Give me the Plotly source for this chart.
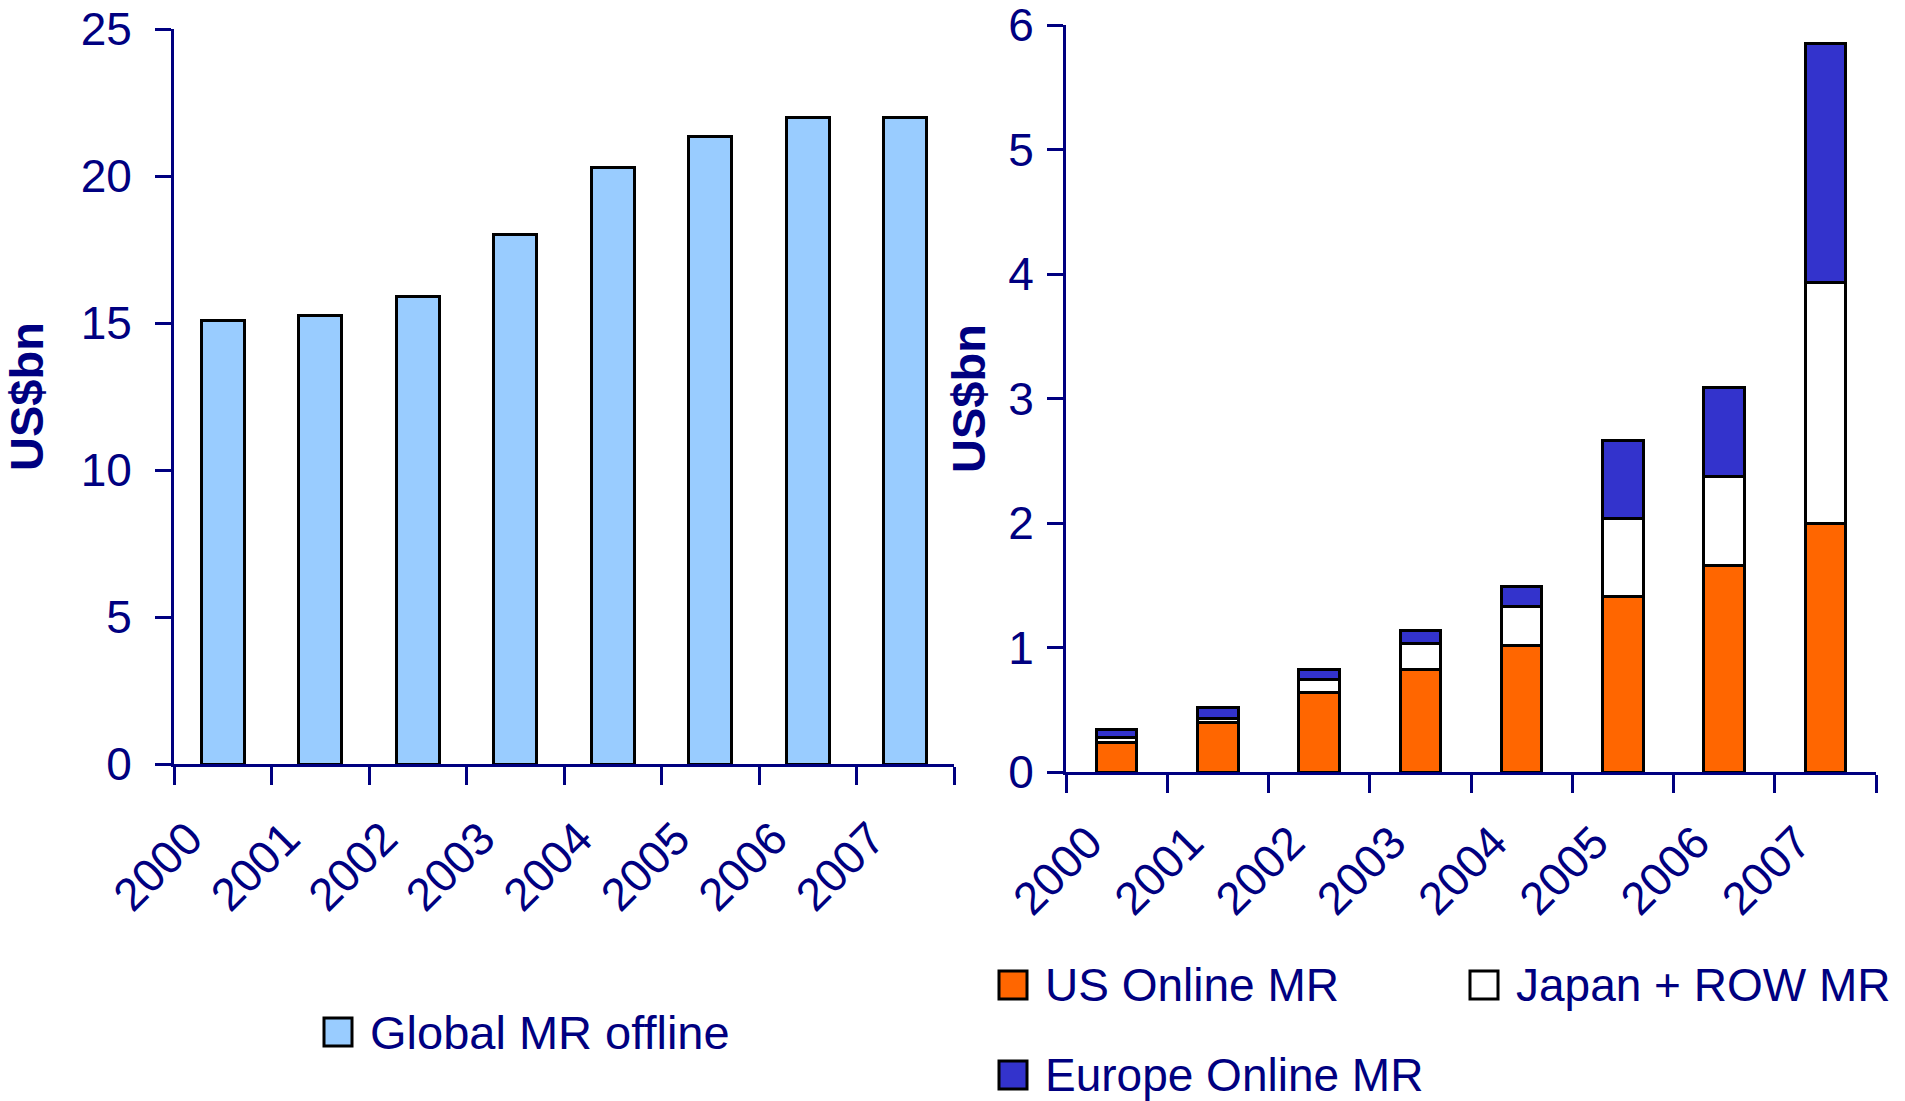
import plotly.graph_objects as go

# Market research spend, US$bn
years = ["2000", "2001", "2002", "2003", "2004", "2005", "2006", "2007"]
global_offline = [15.1, 15.25, 15.9, 18.0, 20.3, 21.35, 22.0, 22.0]

us_online = [0.24, 0.40, 0.635, 0.82, 1.02, 1.41, 1.66, 2.0]
japan_row = [0.04, 0.03, 0.11, 0.21, 0.31, 0.63, 0.71, 1.93]
europe_online = [0.06, 0.09, 0.08, 0.11, 0.16, 0.62, 0.72, 1.92]

y1_ticks = [0, 5, 10, 15, 20, 25]
y2_ticks = [0, 1, 2, 3, 4, 5, 6]

NAVY = "#000080"
FONT = "Liberation Sans, Arial, sans-serif"
W, H = 1905, 1101

fig = go.Figure()

outline = dict(color="black", width=3)

fig.add_trace(go.Bar(x=years, y=global_offline, name="Global MR offline",
                     marker=dict(color="#99CCFF", line=outline),
                     width=0.44, xaxis="x", yaxis="y", showlegend=False))

for name, vals, col in [("US Online MR", us_online, "#FF6600"),
                        ("Japan + ROW MR", japan_row, "#FFFFFF"),
                        ("Europe Online MR", europe_online, "#3333CC")]:
    fig.add_trace(go.Bar(x=years, y=vals, name=name,
                         marker=dict(color=col, line=outline),
                         width=0.40, xaxis="x2", yaxis="y2", showlegend=False))

tickfont = dict(family=FONT, size=46, color=NAVY)
xcommon = dict(type="category", tickson="boundaries", ticks="outside",
               ticklen=18, tickwidth=3, tickcolor=NAVY, showline=True,
               linecolor=NAVY, linewidth=3, showgrid=False, zeroline=False,
               tickangle=-45, tickfont=tickfont, range=[-0.5, 7.5],
               automargin=False)
ycommon = dict(ticks="outside", ticklen=16, tickwidth=3, tickcolor=NAVY,
               showline=True, linecolor=NAVY, linewidth=3, showgrid=False,
               zeroline=False, tickfont=tickfont, automargin=False,
               ticklabeloverflow="allow")
titlefont = dict(family=FONT, size=47, color=NAVY)


def px_x(p):
    return p / W


def px_y(p):
    return 1 - p / H


fig.update_layout(
    width=W, height=H, margin=dict(l=0, r=0, t=0, b=0),
    paper_bgcolor="white", plot_bgcolor="white", barmode="stack",
    font=dict(family=FONT, color=NAVY),
    xaxis=dict(domain=[px_x(174), px_x(954)], anchor="y",
               ticklabelshift=-34, ticklabelstandoff=26, **xcommon),
    yaxis=dict(domain=[px_y(764), px_y(29)], anchor="x", range=[0, 25.001],
               tickvals=y1_ticks, ticklabelstandoff=14,
               title=dict(text="<b>US$bn</b>", standoff=27, font=titlefont),
               **ycommon),
    xaxis2=dict(domain=[px_x(1066), px_x(1876)], anchor="y2",
                ticklabelshift=-28, ticklabelstandoff=22, **xcommon),
    yaxis2=dict(domain=[px_y(772), px_y(25)], anchor="x2", range=[0, 6.001],
                tickvals=y2_ticks, ticklabelstandoff=4,
                title=dict(text="<b>US$bn</b>", standoff=8, font=titlefont),
                **ycommon),
)

# Legend swatches and labels
legend_items = [
    ("Global MR offline", "#99CCFF", 324, 1032, 47),
    ("US Online MR", "#FF6600", 999, 985, 46),
    ("Japan + ROW MR", "#FFFFFF", 1470, 985, 46),
    ("Europe Online MR", "#3333CC", 999, 1075, 46),
]
for label, col, x0, yc, fs in legend_items:
    fig.add_shape(type="rect", xref="paper", yref="paper",
                  x0=px_x(x0), x1=px_x(x0 + 28),
                  y0=px_y(yc + 14), y1=px_y(yc - 14),
                  fillcolor=col, line=dict(color="black", width=3))
    fig.add_annotation(xref="paper", yref="paper", x=px_x(x0 + 44), y=px_y(yc),
                       xanchor="left", yanchor="middle", text=label,
                       showarrow=False,
                       font=dict(family=FONT, size=fs, color=NAVY))

fig.write_html("out.html")
